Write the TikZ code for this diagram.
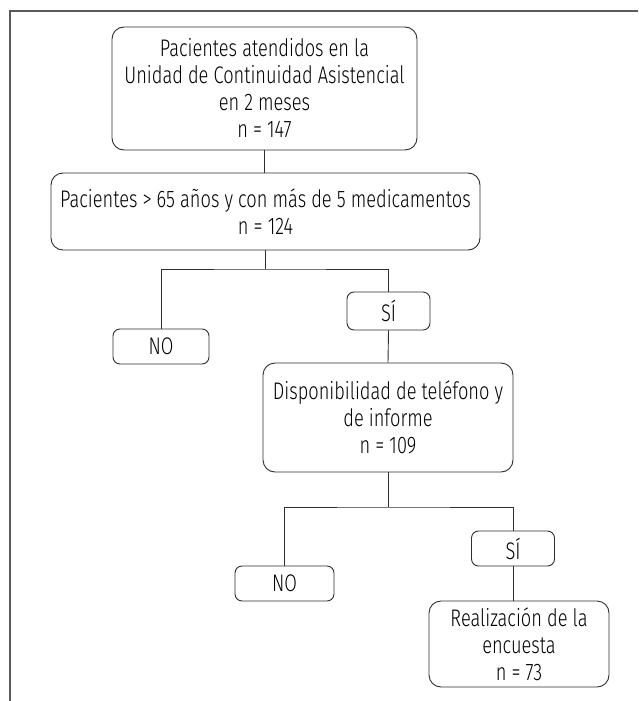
\documentclass[tikz,border=0pt]{standalone}
\usepackage{fontspec}
\setmainfont{Fira Sans Light}[FakeStretch=0.76]
\usetikzlibrary{positioning}
\definecolor{framegray}{HTML}{5A5A5A}
\definecolor{linegray}{HTML}{2E2E2E}
\tikzset{
  bigbox/.style={draw=linegray,line width=0.9pt,rounded corners=12pt,align=center,
    inner sep=0pt,font=\fontsize{24}{27}\selectfont},
  smallbox/.style={draw=linegray,line width=0.9pt,rounded corners=7pt,align=center,
    inner sep=0pt,font=\fontsize{24}{27}\selectfont},
  link/.style={draw=linegray,line width=0.9pt}
}
\begin{document}
\begin{tikzpicture}[x=1pt,y=-1pt]
  \useasboundingbox (0,0) rectangle (638,701);
  \draw[framegray,line width=2pt] (10,701) -- (10,11) -- (638,11);
  % boxes
  \node[bigbox,minimum width=305pt,minimum height=123pt] (pac) at (264.5,88.5)
    {Pacientes atendidos en la\\Unidad de Continuidad Asistencial\\en 2 meses\\n = 147};
  \node[bigbox,minimum width=429pt,minimum height=77pt] (may) at (265.5,211.5)
    {Pacientes > 65 años y con más de 5 medicamentos\\n = 124};
  \node[smallbox,minimum width=96pt,minimum height=35pt] (no1) at (161,346.5) {NO};
  \node[smallbox,minimum width=83pt,minimum height=38pt] (si1) at (388.5,311) {SÍ};
  \node[bigbox,minimum width=250pt,minimum height=109pt] (disp) at (388,417.5)
    {Disponibilidad de teléfono y\\de informe\\n = 109};
  \node[smallbox,minimum width=99pt,minimum height=35pt] (no2) at (284.5,583.5) {NO};
  \node[smallbox,minimum width=83pt,minimum height=35pt] (si2) at (513,548.5) {SÍ};
  \node[bigbox,minimum width=180pt,minimum height=86pt] (enc) at (519,644)
    {Realización de la\\encuesta\\n = 73};
  % connectors
  \coordinate (j1) at (265.5,269);
  \coordinate (j2) at (388,507);
  \draw[link] (pac.south) -- (pac.south |- may.north);
  \draw[link] (may.south) -- (j1);
  \draw[link] (no1.north) |- (j1) -| (si1.north);
  \draw[link] (si1.south) -- (disp.north);
  \draw[link] (disp.south) -- (j2);
  \draw[link] (no2.north) |- (j2) -| (si2.north);
  \draw[link] (si2.south) -- (si2.south |- enc.north);
\end{tikzpicture}
\end{document}
